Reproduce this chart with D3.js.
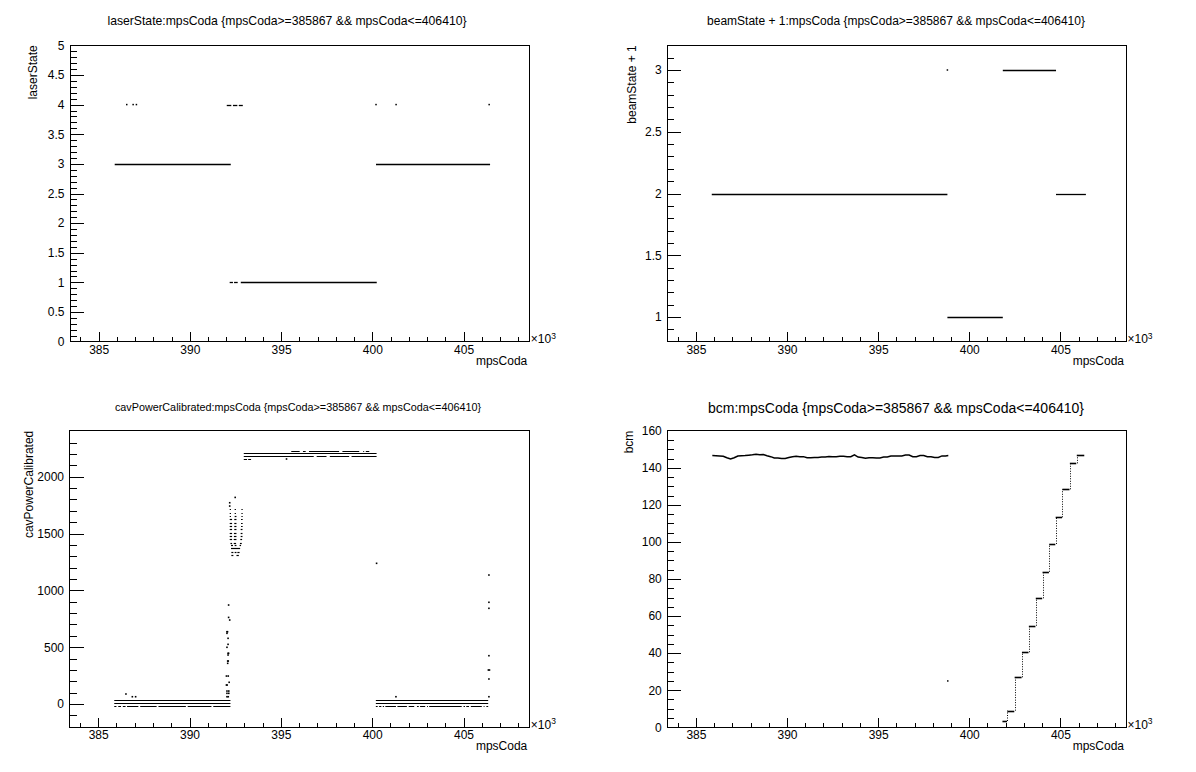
<!DOCTYPE html>
<html><head><meta charset="utf-8">
<script src="https://cdn.jsdelivr.net/npm/d3@7"></script>
<style>
body{margin:0;background:#fff;}
svg{display:block;}
text{font-family:"Liberation Sans",Arial,Helvetica,sans-serif;fill:#000;}
</style></head><body>
<svg id="c" width="1196" height="772"></svg>
<script>
// ================= DATA (mpsCoda in units of 10^3) =================
const xMajorTicks = [385, 390, 395, 400, 405];
const laserYTicks = [0, 0.5, 1, 1.5, 2, 2.5, 3, 3.5, 4, 4.5, 5];
const beamYTicks  = [1, 1.5, 2, 2.5, 3];
const cavYTicks   = [0, 500, 1000, 1500, 2000];
const bcmYTicks   = [0, 20, 40, 60, 80, 100, 120, 140, 160];

// laserState: continuous runs [start, end, value] and isolated points [x, value]
const laserRuns = [
  [385.88, 392.24, 3], [400.20, 406.45, 3],
  [392.02, 392.27, 4], [392.36, 392.60, 4], [392.68, 392.90, 4],
  [392.18, 392.36, 1], [392.42, 392.62, 1], [392.79, 400.24, 1]
];
const laserPoints = [[386.54, 4], [386.89, 4], [387.07, 4], [400.20, 4], [401.30, 4], [406.40, 4]];

// beamState + 1
const beamRuns = [[385.87, 398.80, 2], [398.80, 401.84, 1], [401.84, 404.76, 3], [404.76, 406.40, 2]];
const beamPoints = [[398.80, 3]];

// cavPowerCalibrated
const cavRuns = [
  // low band, left
  [385.88, 392.24, 35], [385.88, 392.24, 11],
  [385.88, 386.00, -18], [386.10, 386.25, -18], [386.35, 386.50, -18], [386.58, 387.20, -18],
  [387.30, 388.20, -18], [388.30, 389.80, -18], [389.90, 391.20, -18], [391.30, 392.24, -18],
  // low band, right
  [400.20, 406.35, 35], [400.20, 406.35, 11],
  [400.20, 400.30, -18], [400.38, 400.50, -18], [400.58, 400.65, -18], [400.72, 401.30, -18],
  [401.38, 401.90, -18], [402.00, 402.30, -18], [402.45, 402.55, -18], [402.62, 402.90, -18],
  [403.00, 403.05, -18], [403.12, 404.90, -18], [405.00, 405.08, -18], [405.15, 405.30, -18],
  [405.40, 406.00, -18], [406.10, 406.15, -18], [406.25, 406.35, -18],
  // high band
  [395.57, 396.03, 2230], [396.21, 396.36, 2230], [396.54, 398.19, 2230], [398.37, 399.29, 2230],
  [399.51, 399.56, 2230], [399.65, 399.84, 2230],
  [392.97, 400.24, 2208],
  [392.97, 396.80, 2186], [396.96, 397.50, 2186], [397.68, 398.74, 2186], [398.87, 400.24, 2186],
  [392.97, 393.15, 2156], [393.21, 393.37, 2156]
];
// cluster of short dashes around mpsCoda 392.2-393.0
const cavClusterDashes = [
  [392.20, 392.27, 1713], [392.47, 392.54, 1713], [392.84, 392.91, 1713],
  [392.20, 392.27, 1683], [392.47, 392.54, 1683], [392.84, 392.91, 1683],
  [392.20, 392.27, 1654], [392.47, 392.57, 1654], [392.84, 392.91, 1654],
  [392.20, 392.33, 1624], [392.45, 392.57, 1624], [392.82, 392.91, 1624],
  [392.20, 392.33, 1595], [392.45, 392.57, 1595], [392.82, 392.91, 1595],
  [392.20, 392.33, 1566], [392.45, 392.57, 1566], [392.82, 392.91, 1566],
  [392.20, 392.33, 1537], [392.45, 392.57, 1537], [392.80, 392.90, 1537],
  [392.20, 392.33, 1507], [392.43, 392.57, 1507], [392.80, 392.90, 1507],
  [392.20, 392.33, 1478], [392.43, 392.57, 1478], [392.80, 392.90, 1478],
  [392.20, 392.33, 1449], [392.42, 392.57, 1449], [392.78, 392.88, 1449],
  [392.24, 392.33, 1419], [392.42, 392.55, 1419], [392.76, 392.86, 1419],
  [392.27, 392.38, 1396], [392.47, 392.57, 1396], [392.74, 392.82, 1396],
  [392.27, 392.77, 1370],
  [392.29, 392.40, 1340], [392.47, 392.57, 1340], [392.62, 392.74, 1340],
  [392.29, 392.40, 1311], [392.57, 392.70, 1311]
];
const cavPoints = [
  [392.50, 1818], [392.20, 1771], [392.20, 1742],
  [392.14, 871], [392.14, 762], [392.20, 739], [392.05, 636], [392.08, 636], [392.05, 622],
  [392.11, 578], [392.11, 525], [392.05, 499], [392.11, 446], [392.14, 446], [392.11, 431],
  [392.09, 378], [392.12, 378], [392.09, 358], [392.02, 246], [392.12, 246], [392.17, 191],
  [392.02, 167], [392.06, 167], [392.05, 114], [392.15, 114], [392.05, 94], [392.15, 94],
  [392.05, 64], [392.12, 64],
  [386.52, 88], [386.87, 64], [387.05, 64],
  [395.31, 2156], [400.24, 1238], [401.30, 64],
  [406.39, 1135], [406.39, 895], [406.39, 842], [406.39, 425], [406.36, 299], [406.42, 299],
  [406.39, 220], [406.39, 64]
];

// bcm: flat-top section sampled along mpsCoda
const bcmFlatX = [385.9, 386.1, 386.3, 386.5, 386.7, 386.9, 387.1, 387.3, 387.5, 387.7, 387.9, 388.1, 388.3, 388.5,
  388.7, 388.9, 389.1, 389.3, 389.5, 389.7, 389.9, 390.1, 390.3, 390.5, 390.7, 390.9, 391.1, 391.3, 391.5, 391.7,
  391.9, 392.1, 392.3, 392.5, 392.7, 392.9, 393.1, 393.3, 393.5, 393.7, 393.9, 394.1, 394.3, 394.5, 394.7, 394.9,
  395.1, 395.3, 395.5, 395.7, 395.9, 396.1, 396.3, 396.5, 396.7, 396.9, 397.1, 397.3, 397.5, 397.7, 397.9, 398.1,
  398.3, 398.5, 398.7, 398.85];
const bcmFlatY = [146.6, 146.5, 146.4, 146.2, 145.4, 144.7, 145.4, 146.3, 146.5, 146.6, 146.8, 147.0, 147.3, 147.0,
  147.1, 146.5, 146.0, 145.3, 145.3, 145.0, 145.0, 145.5, 146.0, 146.2, 146.0, 146.0, 145.4, 145.4, 145.6, 145.6,
  145.8, 145.8, 146.1, 146.0, 146.0, 146.2, 146.2, 146.0, 146.0, 147.0, 145.8, 145.5, 145.1, 145.4, 145.4, 145.3,
  145.3, 145.8, 145.8, 146.3, 146.3, 146.4, 146.4, 146.9, 146.9, 146.0, 146.0, 146.6, 146.6, 146.0, 146.0, 145.6,
  145.6, 146.4, 146.4, 146.6];
// bcm ramp: steps [start, end, value]
const bcmSteps = [
  [401.82, 402.07, 3.4], [402.09, 402.47, 9.0], [402.49, 402.87, 27.0], [402.89, 403.25, 40.5],
  [403.27, 403.63, 54.8], [403.65, 404.00, 69.6], [404.02, 404.37, 83.9], [404.39, 404.72, 98.9],
  [404.74, 405.09, 113.3], [405.11, 405.50, 128.4], [405.52, 405.87, 142.4], [405.90, 406.31, 146.9]
];
const bcmPoints = [[398.82, 25]];

// ================= LAYOUT =================
const xDomain = [383.43, 408.60];
const svg = d3.select("#c");

const panels = [
  { title: "laserState:mpsCoda {mpsCoda>=385867 && mpsCoda<=406410}", tx: 287, ty: 24.5, ts: 12.2,
    f: { l: 70, t: 45.3, r: 529.3, b: 341.7 }, yDomain: [0, 5], yMajor: laserYTicks, yMinor: 0.1,
    yTitle: "laserState", yTitleX: 36.7 },
  { title: "beamState + 1:mpsCoda {mpsCoda>=385867 && mpsCoda<=406410}", tx: 896, ty: 24.5, ts: 12.0,
    f: { l: 667.3, t: 45.3, r: 1126, b: 341.7 }, yDomain: [0.8, 3.2], yMajor: beamYTicks, yMinor: 0.1,
    yTitle: "beamState + 1", yTitleX: 636 },
  { title: "cavPowerCalibrated:mpsCoda {mpsCoda>=385867 && mpsCoda<=406410}", tx: 298, ty: 410.5, ts: 10.8,
    f: { l: 69.5, t: 430.7, r: 529.3, b: 727.3 }, yDomain: [-205, 2405], yMajor: cavYTicks, yMinor: 100,
    yTitle: "cavPowerCalibrated", yTitleX: 33.3 },
  { title: "bcm:mpsCoda {mpsCoda>=385867 && mpsCoda<=406410}", tx: 896, ty: 412.5, ts: 14.0,
    f: { l: 667.3, t: 430.7, r: 1126, b: 727.3 }, yDomain: [0, 160], yMajor: bcmYTicks, yMinor: 5,
    yTitle: "bcm", yTitleX: 633.3 }
];

function minorTicks(domain, step, majors) {
  const out = [];
  const s = Math.ceil(domain[0] / step - 1e-9), e = Math.floor(domain[1] / step + 1e-9);
  for (let i = s; i <= e; i++) {
    const v = +(i * step).toFixed(6);
    if (!majors.some(m => Math.abs(m - v) < step * 1e-3)) out.push(v);
  }
  return out;
}

const fmt = v => String(+v.toFixed(3));
const noDomain = sel => sel.select(".domain").remove();

panels.forEach((p, i) => {
  const g = svg.append("g");
  const x = d3.scaleLinear().domain(xDomain).range([p.f.l, p.f.r]);
  const y = d3.scaleLinear().domain(p.yDomain).range([p.f.b, p.f.t]);
  p.x = x; p.y = y; p.g = g;
  // ticks lying on the frame edge are hidden under the frame line
  const onEdgeY = v => Math.abs(y(v) - p.f.b) < 1 || Math.abs(y(v) - p.f.t) < 1;

  // title
  g.append("text").attr("x", p.tx).attr("y", p.ty).attr("text-anchor", "middle")
    .style("font-size", p.ts + "px").text(p.title);

  // x axis
  const xMinor = minorTicks(xDomain, 1, xMajorTicks);
  g.append("g").attr("transform", `translate(0,${p.f.b})`)
    .call(d3.axisBottom(x).tickValues(xMajorTicks).tickSizeInner(-9.5).tickSizeOuter(0).tickPadding(3.6).tickFormat(fmt))
    .call(noDomain);
  g.append("g").attr("transform", `translate(0,${p.f.b})`)
    .call(d3.axisBottom(x).tickValues(xMinor).tickSizeInner(-4.7).tickSizeOuter(0).tickFormat(""))
    .call(noDomain);
  // y axis
  const yMinor = minorTicks(p.yDomain, p.yMinor, p.yMajor).filter(v => !onEdgeY(v));
  const yMaj = g.append("g").attr("transform", `translate(${p.f.l},0)`)
    .call(d3.axisLeft(y).tickValues(p.yMajor).tickSizeInner(-14).tickSizeOuter(0).tickPadding(5.5).tickFormat(fmt))
    .call(noDomain);
  yMaj.selectAll(".tick").filter(v => onEdgeY(v)).select("line").remove();
  g.append("g").attr("transform", `translate(${p.f.l},0)`)
    .call(d3.axisLeft(y).tickValues(yMinor).tickSizeInner(-7.2).tickSizeOuter(0).tickFormat(""))
    .call(noDomain);
  g.selectAll(".tick line").attr("stroke", "#000").attr("stroke-width", 1).attr("shape-rendering", "crispEdges");
  g.selectAll(".tick text").style("font-size", "12px").attr("fill", "#000")
    .style("font-family", '"Liberation Sans",Arial,Helvetica,sans-serif');

  // frame
  g.append("rect").attr("x", p.f.l).attr("y", p.f.t).attr("width", p.f.r - p.f.l).attr("height", p.f.b - p.f.t)
    .attr("fill", "none").attr("stroke", "#000").attr("stroke-width", 1).attr("shape-rendering", "crispEdges");

  // x title and exponent
  g.append("text").attr("x", p.f.r - 2).attr("y", p.f.b + 23).attr("text-anchor", "end")
    .style("font-size", "12px").text("mpsCoda");
  const ex = g.append("text").attr("x", p.f.r + 1.5).attr("y", p.f.b + 1.5).style("font-size", "12px");
  ex.append("tspan").text("\u00d710");
  ex.append("tspan").attr("dy", -4.5).style("font-size", "8.5px").text("3");

  // y title
  g.append("text").attr("transform", `translate(${p.yTitleX},${p.f.t}) rotate(-90)`)
    .attr("text-anchor", "end").style("font-size", "12px").text(p.yTitle);

  p.data = g.append("g");
});

function drawRuns(p, runs, w) {
  p.data.selectAll(null).data(runs).enter().append("line")
    .attr("x1", d => p.x(d[0])).attr("x2", d => p.x(d[1]))
    .attr("y1", d => Math.round(p.y(d[2])) + 0.5).attr("y2", d => Math.round(p.y(d[2])) + 0.5)
    .attr("stroke", "#000").attr("stroke-width", w || 1);
}
function drawPoints(p, pts, s) {
  s = s || 1.6;
  p.data.selectAll(null).data(pts).enter().append("rect")
    .attr("x", d => p.x(d[0]) - s / 2).attr("y", d => p.y(d[1]) - s / 2)
    .attr("width", s).attr("height", s).attr("fill", "#000");
}

// laserState
drawRuns(panels[0], laserRuns, 1.3);
drawPoints(panels[0], laserPoints, 1.5);
// beamState
drawRuns(panels[1], beamRuns, 1.3);
drawPoints(panels[1], beamPoints, 1.5);
// cavPowerCalibrated
drawRuns(panels[2], cavRuns, 1);
drawRuns(panels[2], cavClusterDashes, 1.2);
drawPoints(panels[2], cavPoints, 1.6);
// bcm
(function () {
  const p = panels[3];
  const pts = bcmFlatX.map((v, i) => [v, bcmFlatY[i]]);
  p.data.append("path").datum(pts)
    .attr("d", d3.line().x(d => p.x(d[0])).y(d => p.y(d[1])))
    .attr("fill", "none").attr("stroke", "#000").attr("stroke-width", 1.5);
  drawRuns(p, bcmSteps, 1.6);
  // dotted risers between consecutive steps
  const risers = bcmSteps.slice(1).map((s, i) => [s[0], bcmSteps[i][2], s[2]]);
  p.data.selectAll(null).data(risers).enter().append("line")
    .attr("x1", d => Math.round(p.x(d[0])) + 0.5).attr("x2", d => Math.round(p.x(d[0])) + 0.5)
    .attr("y1", d => p.y(d[1])).attr("y2", d => p.y(d[2]))
    .attr("stroke", "#000").attr("stroke-width", 1).attr("stroke-dasharray", "1,1.5");
  drawPoints(p, bcmPoints, 1.5);
})();
</script>
</body></html>
